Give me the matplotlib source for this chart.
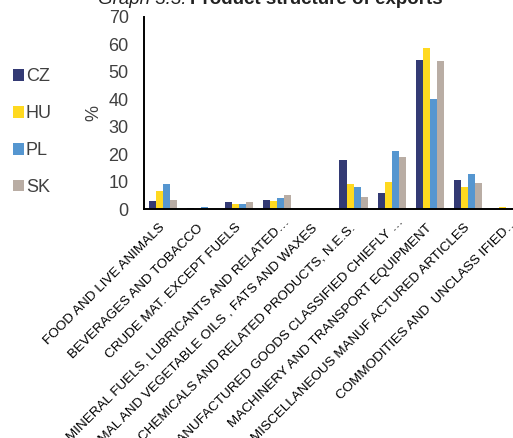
import matplotlib
matplotlib.use('Agg')
import matplotlib.pyplot as plt
import matplotlib.transforms as mtransforms
import numpy as np
from matplotlib.patches import Patch

plt.rcParams['font.family'] = ['Liberation Sans', 'DejaVu Sans']

# Product groups (SITC sections) as labelled in the source chart
categories = [
    'FOOD AND LIVE ANIMALS',
    'BEVERAGES AND TOBACCO',
    'CRUDE MAT. EXCEPT FUELS',
    'MINERAL FUELS, LUBRICANTS AND RELATED…',
    'ANIMAL AND VEGETABLE OILS , FATS AND WAXES',
    'CHEMICALS AND RELATED PRODUCTS, N.E.S.',
    'MANUFACTURED GOODS CLASSIFIED CHIEFLY …',
    'MACHINERY AND TRANSPORT EQUIPMENT',
    'MISCELLANEOUS MANUF ACTURED ARTICLES',
    'COMMODITIES AND  UNCLASS IFIED…',
]

# Share of exports, %
cz = [3.0, 0.5, 2.6, 3.4, 0.0, 17.9, 5.9, 54.2, 10.6, 0.3]
hu = [6.6, 0.0, 2.0, 3.0, 0.0, 9.2, 9.9, 58.5, 8.1, 0.7]
pl = [9.3, 0.9, 2.0, 4.1, 0.0, 8.2, 21.1, 40.1, 12.8, 0.0]
sk = [3.5, 0.0, 2.5, 5.2, 0.0, 4.6, 19.0, 53.9, 9.7, 0.0]

countries = ['CZ', 'HU', 'PL', 'SK']
colors = ['#333a74', '#ffd920', '#5596d0', '#b9ada4']
yticks = [0, 10, 20, 30, 40, 50, 60, 70]


def main():
    fig = plt.figure(figsize=(5.13, 4.38), dpi=100)
    ax = fig.add_axes([0.2807, 0.522, 0.7427, 0.440])

    x = np.arange(len(categories))
    width = 0.185
    series = [cz, hu, pl, sk]
    for i, (vals, col) in enumerate(zip(series, colors)):
        ax.bar(x + (i - 1.5) * width, vals, width, color=col, linewidth=0)

    ax.set_xlim(-0.5, len(categories) - 0.5)
    ax.set_ylim(0, 70)
    ax.set_yticks(yticks)
    ax.tick_params(axis='y', length=0, pad=11, labelsize=13, labelcolor='#404040')
    ax.tick_params(axis='x', length=0, pad=12)
    ax.set_xticks(x)
    ax.set_xticklabels(categories, rotation=45, ha='right', va='center',
                       rotation_mode='anchor', fontsize=9.7)

    # Truncated (…) labels sit a little further up and right in the source
    shift = mtransforms.ScaledTranslation(0.10, 0.06, fig.dpi_scale_trans)
    for lbl in ax.get_xticklabels():
        if lbl.get_text().endswith('…'):
            lbl.set_transform(lbl.get_transform() + shift)

    for side in ['top', 'right']:
        ax.spines[side].set_visible(False)
    for side in ['left', 'bottom']:
        ax.spines[side].set_linewidth(1.4)
        ax.spines[side].set_color('black')

    ax.set_ylabel('%', fontsize=13, color='#404040')
    ax.yaxis.set_label_coords(-0.108, 0.5)

    # Legend on the left side of the figure
    handles = [Patch(facecolor=c, edgecolor='none') for c in colors]
    fig.legend(handles, countries, loc='center left',
               bbox_to_anchor=(0.025, 0.698), frameon=False,
               fontsize=13, handlelength=0.6, handleheight=0.6,
               handletextpad=0.12, labelspacing=1.1, borderpad=0,
               borderaxespad=0, labelcolor='#404040')

    # Title: italic prefix and bold main text, partly clipped at the top
    fig.text(187 / 513, 0.991, 'Graph 3.3:', ha='right', va='baseline',
             fontsize=13.5, style='italic', color='#222222')
    fig.text(190 / 513, 0.991, 'Product structure of exports', ha='left',
             va='baseline', fontsize=13.5, fontweight='bold', color='#222222')

    fig.savefig('out.png', dpi=100)


if __name__ == '__main__':
    main()
